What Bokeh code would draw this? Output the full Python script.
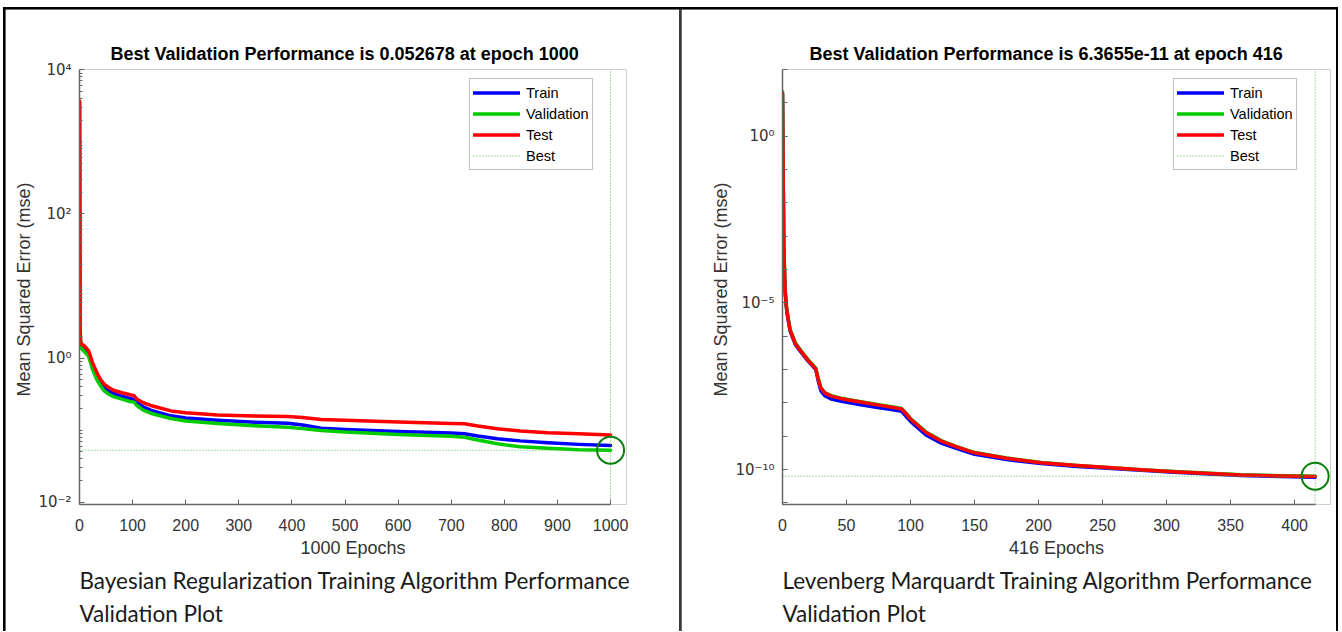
from bokeh.plotting import figure
from bokeh.models import Range1d, FixedTicker, CustomJSTickFormatter, Title
from bokeh.layouts import row
from bokeh.embed import file_html
from bokeh.resources import INLINE

# ---------------- data: Bayesian Regularization ----------------
BR_TITLE = "Best Validation Performance is 0.052678 at epoch 1000"
BR_XLABEL = "1000 Epochs"
BR_CAPTION = ["Bayesian Regularization Training Algorithm Performance", "Validation Plot"]
BR_EPOCHS = [0, 1, 2, 4, 8, 12, 17, 20, 24, 30, 34, 40, 46, 55, 65, 80, 95, 103, 108, 120,
             134, 150, 172, 200, 260, 330, 392, 420, 455, 500, 600, 700, 725, 750, 787, 830,
             882, 940, 1000]
BR_TRAIN = [3600, 2.3, 1.55, 1.42, 1.35, 1.27, 1.15, 0.98, 0.78, 0.62, 0.53, 0.45, 0.39, 0.35,
            0.32, 0.295, 0.275, 0.265, 0.24, 0.21, 0.19, 0.175, 0.158, 0.147, 0.137, 0.129,
            0.125, 0.118, 0.1065, 0.102, 0.096, 0.091, 0.089, 0.083, 0.076, 0.071, 0.0667,
            0.0635, 0.0612]
BR_VAL = [3700, 3.0, 1.8, 1.35, 1.25, 1.17, 1.06, 0.9, 0.71, 0.56, 0.48, 0.41, 0.355, 0.315,
          0.29, 0.27, 0.25, 0.245, 0.22, 0.19, 0.172, 0.16, 0.145, 0.134, 0.124, 0.115, 0.11,
          0.105, 0.099, 0.094, 0.087, 0.082, 0.0798, 0.073, 0.0646, 0.059, 0.0562, 0.0535,
          0.052678]
BR_TEST = [3700, 2.6, 1.7, 1.55, 1.5, 1.4, 1.27, 1.1, 0.88, 0.70, 0.60, 0.50, 0.44, 0.39,
           0.355, 0.33, 0.31, 0.30, 0.27, 0.24, 0.22, 0.205, 0.185, 0.175, 0.162, 0.157, 0.155,
           0.150, 0.141, 0.137, 0.130, 0.124, 0.1225, 0.114, 0.1045, 0.097, 0.092, 0.089, 0.086]
BR_BEST_EPOCH = 1000
BR_BEST_VALUE = 0.052678
BR_XTICKS = [0, 100, 200, 300, 400, 500, 600, 700, 800, 900, 1000]
BR_YTICKS = [1e-2, 1e0, 1e2, 1e4]
BR_YMINOR = [m * 10.0 ** k for k in range(-2, 4) for m in range(1, 10)]
BR_YLIM = (0.0093, 10100)
BR_XLIM = (0, 1030)

# ---------------- data: Levenberg Marquardt ----------------
LM_TITLE = "Best Validation Performance is 6.3655e-11 at epoch 416"
LM_XLABEL = "416 Epochs"
LM_CAPTION = ["Levenberg Marquardt Training Algorithm Performance", "Validation Plot"]
LM_EPOCHS = [0, 1, 2, 3, 4, 6, 10, 14, 20, 26, 28, 30, 33, 38, 47, 60, 73, 85, 93, 96, 100,
             112, 124, 135, 150, 175, 202, 230, 254, 280, 306, 330, 358, 390, 416]
LM_TRAIN = [18, 4e-4, 2.2e-5, 7.5e-6, 3.8e-6, 1.4e-6, 5.7e-7, 3.5e-7, 1.8e-7, 1.0e-7, 4.4e-8,
            2.3e-8, 1.65e-8, 1.32e-8, 1.1e-8, 9.0e-9, 7.4e-9, 6.3e-9, 5.6e-9, 4.2e-9, 2.8e-9,
            1.1e-9, 6.2e-10, 4.4e-10, 2.9e-10, 2.0e-10, 1.52e-10, 1.25e-10, 1.1e-10, 9.5e-11,
            8.4e-11, 7.5e-11, 6.7e-11, 6.2e-11, 5.95e-11]
LM_VAL = [22, 6e-4, 2.8e-5, 8.5e-6, 4.3e-6, 1.6e-6, 6.4e-7, 3.9e-7, 2.0e-7, 1.1e-7, 5.3e-8,
          2.9e-8, 2.05e-8, 1.65e-8, 1.35e-8, 1.1e-8, 9.1e-9, 7.7e-9, 6.8e-9, 5.2e-9, 3.4e-9,
          1.35e-9, 7.4e-10, 5.1e-10, 3.25e-10, 2.23e-10, 1.64e-10, 1.33e-10, 1.16e-10, 1.0e-10,
          8.8e-11, 7.9e-11, 7.0e-11, 6.6e-11, 6.3655e-11]
LM_TEST = [20, 5e-4, 2.5e-5, 8e-6, 4e-6, 1.5e-6, 6e-7, 3.7e-7, 1.9e-7, 1.05e-7, 5e-8, 2.8e-8,
           2.0e-8, 1.6e-8, 1.32e-8, 1.08e-8, 8.9e-9, 7.5e-9, 6.6e-9, 5e-9, 3.3e-9, 1.3e-9,
           7.2e-10, 5.0e-10, 3.2e-10, 2.2e-10, 1.62e-10, 1.32e-10, 1.15e-10, 9.9e-11, 8.7e-11,
           7.8e-11, 6.9e-11, 6.45e-11, 6.2e-11]
LM_BEST_EPOCH = 416
LM_BEST_VALUE = 6.3655e-11
LM_XTICKS = [0, 50, 100, 150, 200, 250, 300, 350, 400]
LM_YTICKS = [1e-10, 1e-5, 1e0]
LM_YMINOR = [10.0 ** k for k in range(-11, 3)]
LM_YLIM = (9e-12, 100)
LM_XLIM = (0, 428)

YLABEL = "Mean Squared Error  (mse)"
SERIES = ["Train", "Validation", "Test"]
COLORS = ["#0000ff", "#00cc00", "#ff0000"]
BEST_COLOR = "#44bb44"
CIRCLE_COLOR = "#0a7f0a"

AX_FONT = "Liberation Sans"
YTICK_FONT = "DejaVu Sans"
CAP_FONT = "Lato"

SUP = ("const e = Math.round(Math.log10(tick));"
       "const m = {'-':'\\u207b','0':'\\u2070','1':'\\u00b9','2':'\\u00b2','3':'\\u00b3',"
       "'4':'\\u2074','5':'\\u2075','6':'\\u2076','7':'\\u2077','8':'\\u2078','9':'\\u2079'};"
       "return '10' + String(e).split('').map(c => m[c]).join('');")


def panel(width, left, right, xlim, ylim, title, title_offset, xlabel, caption,
          epochs, train, val, test, best_x, best_y, xticks, yticks, yminor, legend_xy):
    p = figure(width=width, height=622, x_range=Range1d(*xlim), y_range=Range1d(*ylim),
               y_axis_type="log", output_backend="svg", toolbar_location=None,
               min_border_left=left, min_border_right=right, min_border_top=60,
               min_border_bottom=127, title=title)
    p.outline_line_color = None
    p.background_fill_color = "white"
    p.border_fill_color = "white"
    p.xgrid.visible = False
    p.ygrid.visible = False

    p.title.align = "left"
    p.title.offset = title_offset
    p.title.text_font = AX_FONT
    p.title.text_font_size = "18px"
    p.title.text_font_style = "bold"
    p.title.text_color = "black"
    p.title.standoff = 12

    xa = p.xaxis[0]
    ya = p.yaxis[0]
    xa.bounds = (0, best_x)
    xa.ticker = FixedTicker(ticks=xticks, minor_ticks=[])
    ya.ticker = FixedTicker(ticks=yticks, minor_ticks=yminor)
    ya.formatter = CustomJSTickFormatter(code=SUP)
    xa.axis_label = xlabel
    ya.axis_label = YLABEL
    for ax in (xa, ya):
        ax.axis_line_color = "#666666"
        ax.axis_line_width = 1.5
        ax.major_tick_line_color = "#666666"
        ax.minor_tick_line_color = "#666666"
        ax.major_tick_in = 5
        ax.major_tick_out = 0
        ax.minor_tick_in = 3
        ax.minor_tick_out = 0
        ax.major_label_text_font = AX_FONT
        ax.major_label_text_font_size = "16px"
        ax.major_label_text_color = "#333333"
        ax.axis_label_text_font = AX_FONT
        ax.axis_label_text_font_size = "18px"
        ax.axis_label_text_font_style = "normal"
        ax.axis_label_text_color = "#333333"
    ya.major_label_text_font = YTICK_FONT
    ya.major_label_text_font_size = "15px"
    xa.major_label_standoff = 14
    xa.axis_label_standoff = 4
    ya.major_label_standoff = 8
    ya.axis_label_standoff = 1
    if len(yminor) < 20:
        ya.minor_tick_in = 5

    for name, color, series in zip(SERIES, COLORS, (train, val, test)):
        p.line(epochs, series, color=color, line_width=3.5, line_join="round",
               line_cap="round", legend_label=name)
    p.line([xlim[0], best_x], [best_y, best_y], color=BEST_COLOR, line_width=1,
           line_dash="1 2", legend_label="Best")
    p.line([best_x, best_x], list(ylim), color=BEST_COLOR, line_width=1, line_dash="1 2")
    p.scatter([best_x], [best_y], marker="circle", size=27, fill_color=None,
              line_color=CIRCLE_COLOR, line_width=2)

    lg = p.legend[0]
    lg.location = legend_xy
    lg.border_line_color = "#808080"
    lg.border_line_width = 1
    lg.background_fill_color = "white"
    lg.background_fill_alpha = 1
    lg.label_text_font = AX_FONT
    lg.label_text_font_size = "14.5px"
    lg.label_text_color = "black"
    lg.label_height = 21
    lg.glyph_height = 21
    lg.glyph_width = 47
    lg.spacing = 0
    lg.padding = 3
    lg.label_standoff = 6
    lg.margin = 0

    for i, line in enumerate(caption):
        p.add_layout(Title(text=line, align="left", offset=0, text_font=CAP_FONT,
                           text_font_size="22.5px", text_font_style="normal",
                           text_color="#1a1a1a", standoff=8 if i == 0 else 1), "below")
    return p


p1 = panel(674, 74, 53, BR_XLIM, BR_YLIM, BR_TITLE, 31, BR_XLABEL, BR_CAPTION,
           BR_EPOCHS, BR_TRAIN, BR_VAL, BR_TEST, BR_BEST_EPOCH, BR_BEST_VALUE,
           BR_XTICKS, BR_YTICKS, BR_YMINOR, (390, 334))
p2 = panel(655, 101, 6, LM_XLIM, LM_YLIM, LM_TITLE, 27, LM_XLABEL, LM_CAPTION,
           LM_EPOCHS, LM_TRAIN, LM_VAL, LM_TEST, LM_BEST_EPOCH, LM_BEST_VALUE,
           LM_XTICKS, LM_YTICKS, LM_YMINOR, (391, 334))

layout = row(p1, p2, spacing=2, margin=(7, 0, 0, 3),
             styles={"border-top": "2px solid black", "border-left": "2px solid black",
                     "border-right": "2px solid black", "background-color": "#3a3a3a"})

open("out.html", "w").write(file_html(layout, INLINE))
